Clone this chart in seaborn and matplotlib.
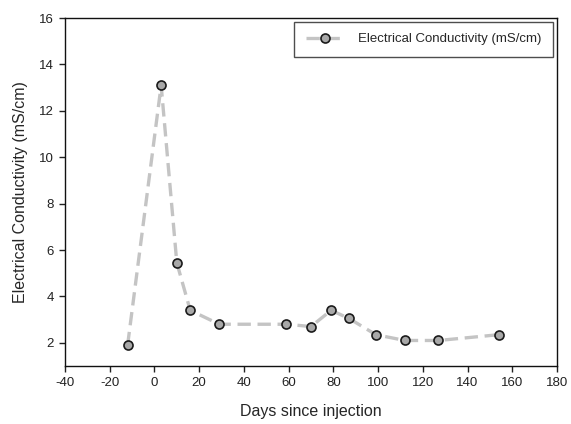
import matplotlib
matplotlib.use("Agg")
import matplotlib.pyplot as plt
import seaborn as sns
import pandas as pd

days = [-12, 3, 10, 16, 29, 59, 70, 79, 87, 99, 112, 127, 154]
conductivity = [1.9, 13.1, 5.45, 3.4, 2.8, 2.8, 2.7, 3.4, 3.05, 2.35, 2.1, 2.1, 2.35]
x_ticks = [-40, -20, 0, 20, 40, 60, 80, 100, 120, 140, 160, 180]
y_ticks = [2, 4, 6, 8, 10, 12, 14, 16]
series_label = "Electrical Conductivity (mS/cm)"

df = pd.DataFrame({"Days": days, "EC": conductivity})

sns.set_style("ticks")
plt.rcParams["font.family"] = ["Liberation Sans", "DejaVu Sans"]
plt.rcParams["axes.unicode_minus"] = False

fig = plt.figure(figsize=(5.71, 4.24), dpi=100)
ax = fig.add_axes([0.1138, 0.1368, 0.8617, 0.8207])

sns.lineplot(data=df, x="Days", y="EC", ax=ax, color="#c4c4c4", linewidth=2.4,
             linestyle=(0, (4, 2)), marker="o", markersize=6.5,
             markerfacecolor="#a8a8a8", markeredgecolor="#1a1a1a",
             markeredgewidth=1.2, label=series_label)

ax.set_xlim(-40, 180)
ax.set_ylim(1, 16)
ax.set_xticks(x_ticks)
ax.set_yticks(y_ticks)
ax.tick_params(axis="both", direction="out", length=4, width=1, labelsize=9.5,
               colors="#222222", pad=4)
for s in ax.spines.values():
    s.set_color("#111111")
    s.set_linewidth(1.0)

ax.set_xlabel("Days since injection", fontsize=11.5, labelpad=11)
ax.set_ylabel("Electrical Conductivity (mS/cm)", fontsize=11.5, labelpad=8)

leg = ax.legend(loc="upper right", fontsize=9.5, frameon=True, fancybox=False,
                borderpad=0.85, handlelength=3.0, handletextpad=1.0,
                borderaxespad=0.3, bbox_to_anchor=(1.0, 1.0))
leg.get_frame().set_edgecolor("#222222")
leg.get_frame().set_linewidth(1.0)

fig.savefig("out.png", dpi=100)
